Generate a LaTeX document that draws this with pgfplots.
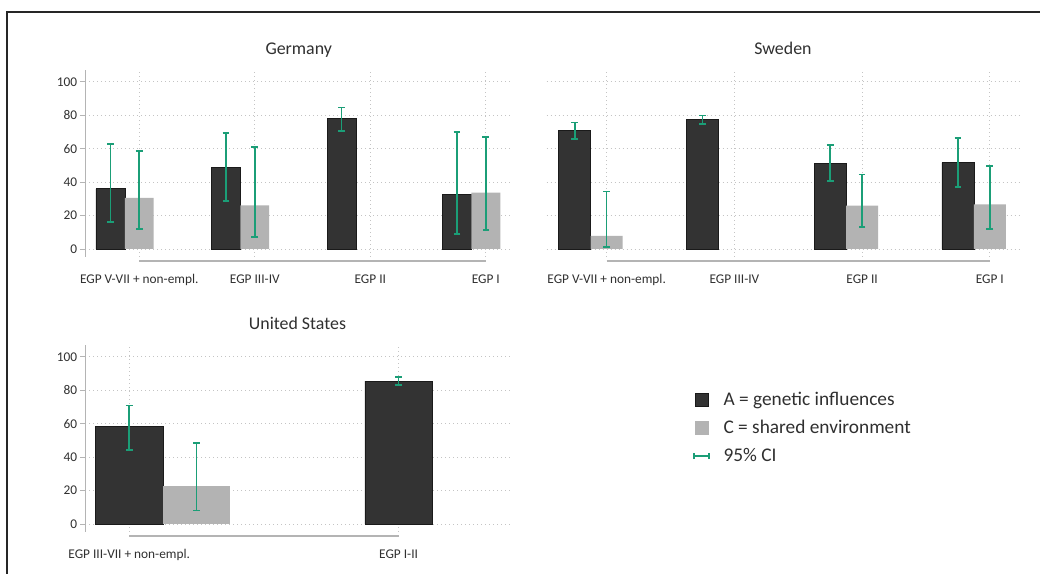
\documentclass[border=0pt]{standalone}
\usepackage{pgfplots}
\pgfplotsset{compat=1.18}
\usepackage{pgfplotstable}
\usepackage{fontspec}
\setmainfont{Carlito}
\definecolor{barA}{HTML}{333333}
\definecolor{barAedge}{HTML}{1A1A1A}
\definecolor{barC}{HTML}{B3B3B3}
\definecolor{ci}{HTML}{1B9E77}
\definecolor{gridc}{HTML}{C4C4C4}
\definecolor{axc}{HTML}{B4B4B4}
\definecolor{txt}{HTML}{303030}

% Germany
\pgfplotstableread{
x y hi lo
-0.25 36.0 62.7 16.1
0.75 49.0 69.3 28.7
1.75 78.3 84.7 70.5
2.75 32.5 69.9 9.0
}\deA
\pgfplotstableread{
x y hi lo
0 30.5 58.6 12.0
1 26.1 61.0 7.2
3 33.7 66.9 11.4
}\deC
% Sweden
\pgfplotstableread{
x y hi lo
-0.25 70.7 75.7 65.7
0.75 77.3 79.7 74.7
1.75 51.2 62.2 40.6
2.75 51.6 66.3 36.9
}\seA
\pgfplotstableread{
x y hi lo
0 7.8 34.3 1.2
2 25.9 44.6 13.1
3 26.7 49.6 12.0
}\seC
% United States
\pgfplotstableread{
x y hi lo
0 58.2 70.9 44.2
1 85.5 88.0 83.3
}\usA
\pgfplotstableread{
x y hi lo
0.25 22.5 48.6 8.2
}\usC

\pgfplotsset{
  panel/.style={
    scale only axis, anchor=south west,
    ymin=-4.6, ymax=107, height=140pt,
    ytick={0,20,...,100},
    grid=major,
    grid style={gridc, line width=0.7pt, dash pattern=on 0.7pt off 2.3pt},
    axis x line*=bottom, axis y line*=left,
    x axis line style={draw=none},
    y axis line style={axc, line width=0.6pt},
    xtick style={draw=none},
    ytick style={axc, line width=0.6pt},
    tick align=outside, major tick length=3.75pt,
    ticklabel style={font=\fontsize{10}{12}\selectfont, text=txt},
    /pgf/number format/assume math mode=true,
    xticklabel style={anchor=base, yshift=-16pt},
    yticklabel style={anchor=east, inner sep=0pt, xshift=-2pt},
    title style={font=\fontsize{13.4}{16}\selectfont, text=txt, anchor=base, at={(0.5,1)}, yshift=5.8pt},
    clip=false,
    bar width=0.25,
  },
  Abar/.style={ybar, bar shift=0pt, fill=barA, draw=barAedge, line width=0.5pt, forget plot},
  Cbar/.style={ybar, bar shift=0pt, fill=barC, draw=none, forget plot},
  CIplot/.style={draw=none, mark=none, forget plot,
    error bars/y dir=both, error bars/y explicit,
    error bars/error bar style={draw=ci, line width=1.2pt},
    error bars/error mark options={rotate=90, mark size=2.5pt, draw=ci, line width=1.2pt}},
  /pgfplots/table/errtab/.style={x=x, y=y,
    y error plus expr=\thisrow{hi}-\thisrow{y},
    y error minus expr=\thisrow{y}-\thisrow{lo}},
}

\begin{document}
\begin{tikzpicture}
\useasboundingbox (0,0) rectangle (780pt,430.5pt);
\fill[white] (0,0) rectangle (780pt,430.5pt);
\draw[line width=1.5pt, black!85] (5pt,0) -- (5pt,421.6pt) -- (780pt,421.6pt);

% Germany
\begin{axis}[panel, at={(63.75pt,237.98pt)}, width=320.55pt,
  xmin=-0.47, xmax=3.23, xtick={0,1,2,3},
  xticklabels={EGP V-VII + non-empl., EGP III-IV, EGP II, EGP I},
  title={Germany}]
\addplot[Abar] table[x=x, y=y] {\deA};
\addplot[Cbar] table[x=x, y=y] {\deC};
\addplot[CIplot] table[errtab] {\deA};
\addplot[CIplot] table[errtab] {\deC};
\draw[axc, line width=1.25pt] (axis cs:0,-7) -- (axis cs:3,-7);
\end{axis}

% Sweden
\begin{axis}[panel, at={(410pt,237.98pt)}, width=354.4pt,
  xmin=-0.47, xmax=3.23, xtick={0,1,2,3},
  xticklabels={EGP V-VII + non-empl., EGP III-IV, EGP II, EGP I},
  yticklabels={}, y axis line style={draw=none}, ytick style={draw=none},
  title={Sweden}]
\addplot[Abar] table[x=x, y=y] {\seA};
\addplot[Cbar] table[x=x, y=y] {\seC};
\addplot[CIplot] table[errtab] {\seA};
\addplot[CIplot] table[errtab] {\seC};
\draw[axc, line width=1.25pt] (axis cs:0,-7) -- (axis cs:3,-7);
\end{axis}

% United States
\begin{axis}[panel, at={(63.8pt,31.7pt)}, width=318.6pt,
  xmin=-0.164, xmax=1.413, xtick={0,1},
  xticklabels={EGP III-VII + non-empl., EGP I-II},
  title={United States},
  legend cell align=left,
  legend style={at={(1.431,0.765)}, anchor=north west, draw=none, fill=none,
    font=\fontsize{14.5}{17}\selectfont, text=txt, inner sep=0pt, row sep=4pt,
    nodes={text height=10pt, text depth=3pt},
    /tikz/every odd column/.append style={column sep=8.5pt}}]
\addplot[Abar] table[x=x, y=y] {\usA};
\addplot[Cbar] table[x=x, y=y] {\usC};
\addplot[CIplot] table[errtab] {\usA};
\addplot[CIplot] table[errtab] {\usC};
\draw[axc, line width=1.25pt] (axis cs:0,-7.2) -- (axis cs:1,-7.2);
\addlegendimage{legend image code/.code={\draw[fill=barA, draw=barAedge, line width=0.5pt] (0pt,-4.6pt) rectangle (9.75pt,5.2pt);}}
\addlegendentry{A = genetic influences}
\addlegendimage{legend image code/.code={\fill[barC] (0pt,-4.6pt) rectangle (9.75pt,5.2pt);}}
\addlegendentry{C = shared environment}
\addlegendimage{legend image code/.code={\draw[ci, line width=1.2pt] (-1.3pt,0.3pt) -- (9.75pt,0.3pt) (-1.3pt,-1.9pt) -- (-1.3pt,2.5pt) (9.75pt,-1.9pt) -- (9.75pt,2.5pt);}}
\addlegendentry{95\% CI}
\end{axis}
\end{tikzpicture}
\end{document}
